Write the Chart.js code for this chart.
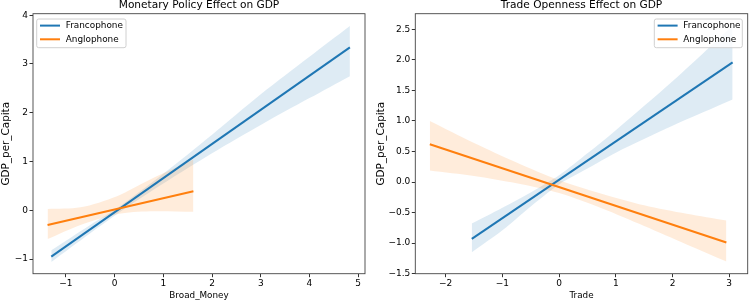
<!DOCTYPE html>
<html>
<head>
<meta charset="utf-8">
<script src="https://cdn.jsdelivr.net/npm/chart.js@4.4.0/dist/chart.umd.min.js"></script>
<style>
  body { margin: 0; background: #fff; }
  #wrap { position: relative; width: 750px; height: 303px; }
  canvas { position: absolute; top: 0; }
</style>
</head>
<body>
<div id="wrap">
  <canvas id="moneyChart" width="375" height="303" style="left:0"></canvas>
  <canvas id="tradeChart" width="375" height="303" style="left:375px"></canvas>
</div>
<script>
// ---- Monetary Policy panel ----
const mpFrancoLineX = [-1.30, 4.83];
const mpFrancoLineY = [-0.95, 3.34];
const mpFrancoBandX = [-1.30, -0.5, 0.1, 1.0, 2.0, 3.0, 4.0, 4.83];
const mpFrancoUpper = [-0.82, -0.30, 0.08, 0.75, 1.55, 2.38, 3.15, 3.78];
const mpFrancoLower = [-1.06, -0.47, -0.04, 0.55, 1.17, 1.75, 2.30, 2.75];

const mpAngloLineX = [-1.376, 1.618];
const mpAngloLineY = [-0.30, 0.39];
const mpAngloBandX = [-1.376, -0.7, 0.05, 0.73, 1.618];
const mpAngloUpper = [0.025, 0.06, 0.29, 0.63, 1.04];
const mpAngloLower = [-0.59, -0.30, -0.08, -0.02, -0.03];

const mpXTicks = [-1, 0, 1, 2, 3, 4, 5];
const mpYTicks = [-1, 0, 1, 2, 3, 4];

// ---- Trade Openness panel ----
const trFrancoLineX = [-1.54, 3.06];
const trFrancoLineY = [-0.93, 1.96];
const trFrancoBandX = [-1.54, -1.0, -0.5, 0, 0.5, 1.0, 2.0, 3.06];
const trFrancoUpper = [-0.68, -0.42, -0.17, 0.11, 0.47, 0.85, 1.65, 2.56];
const trFrancoLower = [-1.15, -0.79, -0.40, -0.04, 0.22, 0.48, 0.92, 1.35];

const trAngloLineX = [-2.28, 2.95];
const trAngloLineY = [0.62, -0.99];
const trAngloBandX = [-2.28, -1.5, -0.75, 0, 0.75, 1.5, 2.25, 2.95];
const trAngloUpper = [1.0, 0.64, 0.32, 0.03, -0.19, -0.38, -0.52, -0.63];
const trAngloLower = [0.19, 0.10, -0.02, -0.18, -0.43, -0.72, -1.02, -1.30];

const trXTicks = [-2, -1, 0, 1, 2, 3];
const trYTicks = [-1.5, -1.0, -0.5, 0.0, 0.5, 1.0, 1.5, 2.0, 2.5];

const seriesNames = ['Francophone', 'Anglophone'];
const blue = '#1f77b4';
const orange = '#ff7f0e';
const FONT = '"DejaVu Sans", sans-serif';

function pts(xs, ys) {
  return xs.map((x, i) => ({ x: x, y: ys[i] }));
}

function minusFmt(decimals) {
  return function (v) {
    const s = Math.abs(v).toFixed(decimals);
    return v < 0 ? '\u2212' + s : s;
  };
}

function buildDatasets(p) {
  // bands first (drawn underneath), then lines; lower "order" is drawn on top
  return [
    { label: 'fb_up', data: pts(p.fBandX, p.fUp), fill: 1, backgroundColor: 'rgba(31,119,180,0.15)',
      borderWidth: 0, pointRadius: 0, tension: 0.3, order: 3 },
    { label: 'fb_lo', data: pts(p.fBandX, p.fLo), fill: false, borderWidth: 0, pointRadius: 0, tension: 0.3, order: 3 },
    { label: 'ab_up', data: pts(p.aBandX, p.aUp), fill: 3, backgroundColor: 'rgba(255,127,14,0.15)',
      borderWidth: 0, pointRadius: 0, tension: 0.3, order: 2 },
    { label: 'ab_lo', data: pts(p.aBandX, p.aLo), fill: false, borderWidth: 0, pointRadius: 0, tension: 0.3, order: 2 },
    { label: seriesNames[0], data: pts(p.fLineX, p.fLineY), borderColor: blue, borderWidth: 2,
      pointRadius: 0, fill: false, order: 1 },
    { label: seriesNames[1], data: pts(p.aLineX, p.aLineY), borderColor: orange, borderWidth: 2,
      pointRadius: 0, fill: false, order: 0 }
  ];
}

const panelPlugin = {
  id: 'panelDecor',
  afterDraw(chart) {
    const o = chart.options.plugins.panelDecor;
    const a = chart.chartArea;
    const ctx = chart.ctx;
    ctx.save();
    // frame (all four spines)
    ctx.strokeStyle = '#444';
    ctx.lineWidth = 0.9;
    ctx.strokeRect(a.left, a.top, a.right - a.left, a.bottom - a.top);
    // title centred over the axes
    ctx.fillStyle = '#000';
    ctx.font = '10.6px ' + FONT;
    ctx.textAlign = 'center';
    ctx.textBaseline = 'middle';
    ctx.fillText(o.title, (a.left + a.right) / 2, 5.5);
    // legend
    const w = o.legendW, h = 28.7;
    const bx = o.legendSide === 'left' ? a.left + 3.7 : a.right - 5.4 - w;
    const by = a.top + 5.3;
    ctx.beginPath();
    ctx.roundRect(bx, by, w, h, 2);
    ctx.fillStyle = 'rgba(255,255,255,0.8)';
    ctx.fill();
    ctx.strokeStyle = '#d0d0d0';
    ctx.lineWidth = 1;
    ctx.stroke();
    const colors = [blue, orange];
    ctx.font = '8.9px ' + FONT;
    ctx.textAlign = 'left';
    seriesNames.forEach((name, i) => {
      const ly = by + 6.6 + i * 13.7;
      ctx.strokeStyle = colors[i];
      ctx.lineWidth = 2;
      ctx.beginPath();
      ctx.moveTo(bx + 3.3, ly);
      ctx.lineTo(bx + 23.3, ly);
      ctx.stroke();
      ctx.fillStyle = '#000';
      ctx.fillText(name, bx + 29, ly + 0.5);
    });
    ctx.restore();
  }
};

function makePanel(id, p) {
  const ctx = document.getElementById(id).getContext('2d');
  return new Chart(ctx, {
    type: 'line',
    data: { datasets: buildDatasets(p) },
    options: {
      responsive: false,
      animation: false,
      devicePixelRatio: 1,
      layout: { padding: { left: 0, right: p.padRight, top: 13.7, bottom: 0 } },
      plugins: {
        legend: { display: false },
        tooltip: { enabled: false },
        panelDecor: { title: p.title, legendSide: p.legendSide, legendW: p.legendW }
      },
      scales: {
        x: {
          type: 'linear',
          min: p.xMin, max: p.xMax,
          afterFit: (s) => { s.height = 29.3; },
          afterBuildTicks: (s) => { s.ticks = p.xTicks.map((v) => ({ value: v })); },
          ticks: { color: '#000', font: { family: FONT, size: 9 }, padding: 1.5, callback: minusFmt(0),
            maxRotation: 0, autoSkip: false },
          grid: { drawOnChartArea: false, drawTicks: true, tickLength: 3.5, tickColor: '#333' },
          border: { display: false },
          title: { display: true, text: p.xTitle, color: '#000', font: { family: FONT, size: 8.8 },
            padding: { top: 0, bottom: 2 } }
        },
        y: {
          type: 'linear',
          min: p.yMin, max: p.yMax,
          afterFit: (s) => { s.width = p.yWidth; },
          afterBuildTicks: (s) => { s.ticks = p.yTicks.map((v) => ({ value: v })); },
          ticks: { color: '#000', font: { family: FONT, size: 9 }, padding: 1.5, callback: minusFmt(p.yDec),
            autoSkip: false },
          grid: { drawOnChartArea: false, drawTicks: true, tickLength: 3.5, tickColor: '#333' },
          border: { display: false },
          title: { display: true, text: 'GDP_per_Capita', color: '#000', font: { family: FONT, size: 10.4 },
            padding: { top: p.yTitlePad, bottom: 0 } }
        }
      }
    },
    plugins: [panelPlugin]
  });
}

makePanel('moneyChart', {
  title: 'Monetary Policy Effect on GDP', xTitle: 'Broad_Money',
  fLineX: mpFrancoLineX, fLineY: mpFrancoLineY, fBandX: mpFrancoBandX, fUp: mpFrancoUpper, fLo: mpFrancoLower,
  aLineX: mpAngloLineX, aLineY: mpAngloLineY, aBandX: mpAngloBandX, aUp: mpAngloUpper, aLo: mpAngloLower,
  xMin: -1.675, xMax: 5.14, yMin: -1.30, yMax: 4.03,
  xTicks: mpXTicks, yTicks: mpYTicks, yDec: 0,
  yWidth: 33, padRight: 10, yTitlePad: 0.5, legendSide: 'left', legendW: 89.3
});

makePanel('tradeChart', {
  title: 'Trade Openness Effect on GDP', xTitle: 'Trade',
  fLineX: trFrancoLineX, fLineY: trFrancoLineY, fBandX: trFrancoBandX, fUp: trFrancoUpper, fLo: trFrancoLower,
  aLineX: trAngloLineX, aLineY: trAngloLineY, aBandX: trAngloBandX, aUp: trAngloUpper, aLo: trAngloLower,
  xMin: -2.536, xMax: 3.326, yMin: -1.5, yMax: 2.756,
  xTicks: trXTicks, yTicks: trYTicks, yDec: 1,
  yWidth: 40.3, padRight: 2.3, yTitlePad: 0, legendSide: 'right', legendW: 88
});
</script>
</body>
</html>
